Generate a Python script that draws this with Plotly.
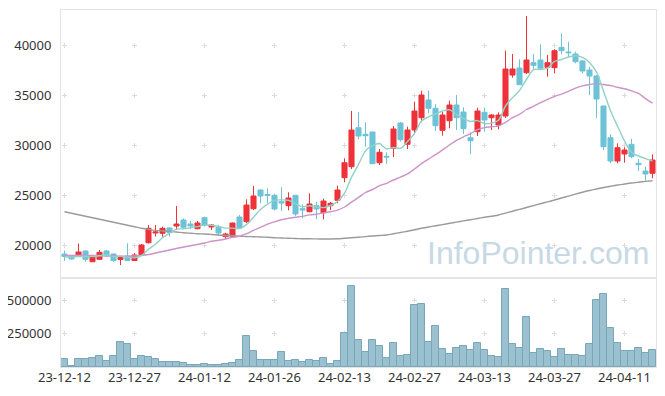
import plotly.graph_objects as go
from plotly.subplots import make_subplots

dates = ["23-12-12","23-12-13","23-12-14","23-12-15","23-12-18","23-12-19","23-12-20","23-12-21","23-12-22","23-12-26",
         "23-12-27","23-12-28","24-01-02","24-01-03","24-01-04","24-01-05","24-01-08","24-01-09","24-01-10","24-01-11",
         "24-01-12","24-01-15","24-01-16","24-01-17","24-01-18","24-01-19","24-01-22","24-01-23","24-01-24","24-01-25",
         "24-01-26","24-01-29","24-01-30","24-01-31","24-02-01","24-02-02","24-02-05","24-02-06","24-02-07","24-02-08",
         "24-02-13","24-02-14","24-02-15","24-02-16","24-02-19","24-02-20","24-02-21","24-02-22","24-02-23","24-02-26",
         "24-02-27","24-02-28","24-02-29","24-03-04","24-03-05","24-03-06","24-03-07","24-03-08","24-03-11","24-03-12",
         "24-03-13","24-03-14","24-03-15","24-03-18","24-03-19","24-03-20","24-03-21","24-03-22","24-03-25","24-03-26",
         "24-03-27","24-03-28","24-03-29","24-04-01","24-04-02","24-04-03","24-04-04","24-04-05","24-04-08","24-04-09",
         "24-04-11","24-04-12","24-04-15","24-04-16","24-04-17"]

open_ = [19100,18950,18950,19400,18330,18570,19400,19100,18550,18900,
         18450,19000,20230,21200,21170,21700,21900,22500,22100,21630,
         22730,21800,21770,20830,20870,22800,22330,23630,25500,25050,
         24970,24330,23930,24970,23630,23330,23930,23230,23930,24470,
         26730,27830,31730,31070,31300,28230,28870,29670,32200,30070,
         31500,32730,34500,33670,31470,32430,34000,33300,30730,31330,
         33270,32730,32000,32900,37000,37700,37230,38230,38500,37770,
         37730,39770,39300,39100,38400,37500,36900,33900,30730,28400,
         29100,30070,28170,27400,27170]

high = [19450,19000,20150,19450,18950,19500,19500,19150,18850,20170,
        19200,20100,22000,22000,21830,21750,23900,22650,22400,22400,
        22830,22100,22000,21230,22250,23000,24570,25900,25550,25670,
        25070,25770,25270,25000,24070,25170,24300,24630,24300,25930,
        28670,33400,33270,32270,31330,29600,29270,31900,32300,31830,
        34330,35430,35430,34070,33330,34430,35000,33770,31270,33730,
        33730,33070,33270,39430,39100,38570,42900,39100,40070,39000,
        39570,41170,40330,39330,38500,37830,37000,33900,31070,30170,
        29770,30600,28600,27830,29070]

low = [18400,18550,18900,18330,18300,18500,18830,18300,18000,18400,
       18400,18900,20150,20850,20830,20850,21500,21600,21570,21570,
       21830,21500,20930,20600,20800,21600,22200,23500,24170,24170,
       23470,23400,23470,22900,22670,23270,22570,22570,23500,24170,
       26270,27600,30570,29830,28100,28000,28130,28800,30330,29600,
       31070,32270,33170,31400,30930,31670,31500,31100,29100,30900,
       31330,31500,31570,32700,36730,36000,37100,37500,37500,36830,
       37170,39070,38830,38170,37170,35000,32700,29500,28170,28170,
       28230,28700,27400,26430,26670]

close = [18850,18600,19300,18570,18900,19270,18970,18450,18750,18450,
         19000,20000,21670,21300,21670,21230,22100,21770,21900,22200,
         21970,22000,21200,21100,22200,21700,24000,24900,24900,24950,
         23600,24200,24700,23100,23500,24100,23600,24400,24170,25500,
         28230,31500,30900,30930,28130,29270,28800,31600,30530,31500,
         33400,35000,33670,31930,33000,34000,32730,31630,30430,33400,
         32500,33000,33000,37600,37600,36030,38500,37970,37670,38230,
         39430,39430,39230,38330,37400,36900,34600,29830,28400,29730,
         29500,28830,28030,27100,28500]

ma5 = [18830,18800,18850,18850,18840,18930,19000,18830,18870,18780,
       18720,18930,19570,20080,20730,21170,21590,21610,21730,21840,
       21990,21970,21850,21690,21690,21640,22040,22780,23540,24090,
       24470,24510,24470,24110,23820,23920,23800,23740,23950,24350,
       25180,26760,28060,29410,29940,30150,29610,29750,29670,30340,
       31170,32410,32820,33100,33400,33520,33070,32660,32360,32440,
       32140,32190,32470,33900,34740,35450,36550,37540,37550,37680,
       38360,38550,38800,38930,38760,38260,37290,35410,33430,31890,
       30410,29260,28900,28640,28390]

ma20 = [18950,18950,18950,18950,18950,18950,18900,18900,18880,18880,
        18900,18950,19050,19200,19350,19500,19650,19800,19930,20050,
        20200,20370,20470,20600,20760,20880,21130,21460,21760,22090,
        22320,22530,22680,22770,22860,23010,23080,23210,23330,23490,
        23800,24280,24760,25250,25550,25930,26170,26500,26790,27110,
        27600,28140,28590,29030,29510,30000,30460,30820,31130,31530,
        31740,31820,31920,32260,32730,33070,33550,33870,34230,34570,
        34870,35090,35370,35690,35910,36050,36140,36050,35950,35770,
        35620,35410,35160,34640,34180]

ma60 = [23330,23180,23030,22880,22730,22580,22430,22280,22130,21980,
        21830,21680,21560,21460,21400,21350,21300,21230,21180,21130,
        21100,21050,21000,20950,20920,20880,20850,20820,20800,20770,
        20730,20700,20680,20650,20630,20620,20610,20600,20600,20620,
        20670,20720,20780,20840,20900,20950,21000,21120,21250,21380,
        21520,21670,21800,21920,22040,22170,22290,22410,22530,22650,
        22770,22880,23000,23190,23380,23560,23750,23940,24130,24310,
        24500,24700,24890,25090,25280,25450,25600,25750,25880,26000,
        26100,26200,26280,26360,26430]

volume = [60000,7000,60000,60000,67000,82000,45000,82000,187000,172000,
          60000,82000,75000,60000,37000,37000,37000,30000,15000,15000,
          22000,15000,15000,22000,30000,52000,232000,120000,52000,52000,
          52000,112000,45000,52000,37000,52000,45000,67000,22000,47000,
          255000,608000,202000,115000,202000,157000,67000,180000,82000,90000,
          465000,472000,187000,307000,135000,97000,142000,157000,127000,180000,
          127000,82000,75000,585000,172000,142000,375000,105000,135000,120000,
          75000,135000,90000,90000,82000,172000,502000,547000,292000,180000,
          120000,120000,142000,105000,127000]

price_ticks = [20000, 25000, 30000, 35000, 40000]
volume_ticks = [250000, 500000]
x_ticks = dates[::10]

RED = "#ee3239"
BLUE = "#6cc3d8"
FONT = "Noto Sans"
GRID = "#dcdcdc"
FRAME = "#e4e4e4"

fig = make_subplots(rows=2, cols=1, shared_xaxes=True, vertical_spacing=0,
                    row_heights=[268 / 357, 89 / 357])

fig.add_trace(go.Candlestick(
    x=dates, open=open_, high=high, low=low, close=close,
    increasing=dict(line=dict(color=RED, width=1), fillcolor=RED),
    decreasing=dict(line=dict(color=BLUE, width=1), fillcolor=BLUE),
    whiskerwidth=0, showlegend=False), row=1, col=1)

for vals, col in [(ma60, "#9b9b9b"), (ma20, "#cc93c8"), (ma5, "#93d1c6")]:
    fig.add_trace(go.Scatter(x=dates, y=vals, mode="lines",
                             line=dict(color=col, width=1.4, shape="spline", smoothing=0.8),
                             showlegend=False, hoverinfo="skip"), row=1, col=1)

fig.add_trace(go.Bar(x=dates, y=volume, marker=dict(color="#9bc0d0", line=dict(color="#78a6bb", width=1)),
                     showlegend=False), row=2, col=1)

xcommon = dict(type="category", categoryorder="array", categoryarray=dates,
               range=[-0.5, len(dates) - 0.5], tickvals=x_ticks, ticktext=x_ticks,
               showline=True, mirror=True, linecolor=FRAME, linewidth=1,
               gridcolor=GRID, gridwidth=1, ticks="", zeroline=False, automargin=False,
               rangeslider=dict(visible=False))

fig.update_xaxes(**xcommon)
fig.update_xaxes(showticklabels=False, griddash="0px,32.5px,5px,12.5px", row=1, col=1)
fig.update_xaxes(showticklabels=True, griddash="0px,19.83px,5px,8.5px", ticklabelstandoff=-2,
                 tickfont=dict(family=FONT, size=13, color="#333333"), row=2, col=1)

ycommon = dict(showline=True, mirror=True, linecolor=FRAME, linewidth=1,
               gridcolor=GRID, gridwidth=1, griddash="0px,1px,5px,64px",
               zeroline=False, ticks="", ticklabelstandoff=6, tickformat="d", automargin=False,
               tickfont=dict(family=FONT, size=13, color="#333333"))
fig.update_yaxes(**ycommon)
fig.update_yaxes(range=[16700, 43500], tickvals=price_ticks, row=1, col=1)
fig.update_yaxes(range=[0, 667500], tickvals=volume_ticks, row=2, col=1)

fig.add_annotation(text="InfoPointer.com", xref="paper", yref="paper",
                   x=0.802, y=0.318, xanchor="center", yanchor="middle", showarrow=False,
                   font=dict(family="Liberation Sans", size=32, color="#c6d9e4"))

# the page body adds an 8px offset, so margins are set to land the plot at the reference position
fig.update_layout(width=665, height=396, margin=dict(l=53, r=17, t=2, b=37),
                  paper_bgcolor="white", plot_bgcolor="white", bargap=0,
                  boxgap=0.15, boxgroupgap=0.15,
                  showlegend=False)

fig.write_html("out.html")
